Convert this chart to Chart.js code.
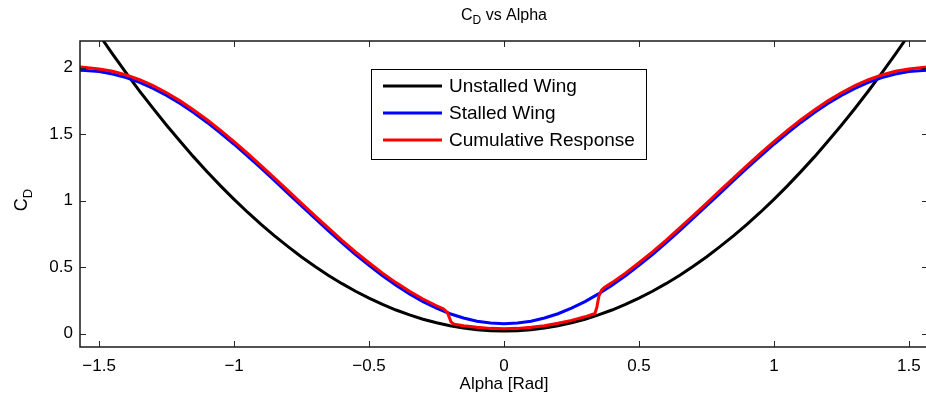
<!DOCTYPE html>
<html>
<head>
<meta charset="utf-8">
<script src="https://cdn.jsdelivr.net/npm/chart.js@4.4.1/dist/chart.umd.min.js"></script>
<style>
    html, body { margin: 0; padding: 0; background: #fff; overflow: hidden; }
    #wrap { width: 940px; height: 407px; }
</style>
</head>
<body>
<div id="wrap"><canvas id="cdChart" width="940" height="407"></canvas></div>
<script>
// angle of attack grid (rad) shared by the unstalled and stalled curves
const alphaGrid = [-1.5708, -1.55, -1.5, -1.45, -1.4, -1.35, -1.3, -1.25, -1.2, -1.15, -1.1, -1.05, -1.0,
    -0.95, -0.9, -0.85, -0.8, -0.75, -0.7, -0.65, -0.6, -0.55, -0.5, -0.45, -0.4, -0.35, -0.3, -0.25, -0.2,
    -0.15, -0.1, -0.05, 0, 0.05, 0.1, 0.15, 0.2, 0.25, 0.3, 0.35, 0.4, 0.45, 0.5, 0.55, 0.6, 0.65, 0.7,
    0.75, 0.8, 0.85, 0.9, 0.95, 1.0, 1.05, 1.1, 1.15, 1.2, 1.25, 1.3, 1.35, 1.4, 1.45, 1.5, 1.55, 1.5708];

const unstalledCd = [2.463, 2.398, 2.248, 2.101, 1.960, 1.824, 1.693, 1.567, 1.446, 1.329, 1.218, 1.111, 1.010,
    0.913, 0.822, 0.735, 0.654, 0.577, 0.505, 0.438, 0.376, 0.319, 0.268, 0.220, 0.178, 0.141, 0.109, 0.082, 0.060,
    0.042, 0.030, 0.022, 0.020, 0.022, 0.030, 0.042, 0.060, 0.082, 0.109, 0.141, 0.178, 0.220, 0.268, 0.319, 0.376,
    0.438, 0.505, 0.577, 0.654, 0.735, 0.822, 0.913, 1.010, 1.111, 1.218, 1.329, 1.446, 1.567, 1.693, 1.824, 1.960,
    2.101, 2.248, 2.398, 2.463];

const stalledCd = [1.980, 1.979, 1.970, 1.952, 1.925, 1.889, 1.844, 1.791, 1.730, 1.662, 1.588, 1.508, 1.424,
    1.335, 1.244, 1.150, 1.055, 0.960, 0.866, 0.773, 0.682, 0.595, 0.513, 0.435, 0.364, 0.299, 0.241, 0.192, 0.150,
    0.118, 0.094, 0.080, 0.075, 0.080, 0.094, 0.118, 0.150, 0.192, 0.241, 0.299, 0.364, 0.435, 0.513, 0.595, 0.682,
    0.773, 0.866, 0.960, 1.055, 1.150, 1.244, 1.335, 1.424, 1.508, 1.588, 1.662, 1.730, 1.791, 1.844, 1.889, 1.925,
    1.952, 1.970, 1.979, 1.980];

// cumulative response has its own grid because of the stall jumps
const cumAlpha = [-1.5708, -1.55, -1.5, -1.45, -1.4, -1.35, -1.3, -1.25, -1.2, -1.15, -1.1, -1.05, -1.0,
    -0.95, -0.9, -0.85, -0.8, -0.75, -0.7, -0.65, -0.6, -0.55, -0.5, -0.45, -0.4, -0.35, -0.3, -0.25, -0.225,
    -0.21, -0.196, -0.185, -0.15, -0.1, -0.05, 0, 0.05, 0.1, 0.15, 0.2, 0.25, 0.3, 0.337, 0.344, 0.352, 0.362,
    0.372, 0.4, 0.45, 0.5, 0.55, 0.6, 0.65, 0.7, 0.75, 0.8, 0.85, 0.9, 0.95, 1.0, 1.05, 1.1, 1.15, 1.2, 1.25,
    1.3, 1.35, 1.4, 1.45, 1.5, 1.55, 1.5708];

const cumCd = [2.005, 2.000, 1.990, 1.972, 1.945, 1.909, 1.864, 1.811, 1.750, 1.682, 1.608, 1.528, 1.444,
    1.355, 1.264, 1.170, 1.075, 0.980, 0.886, 0.793, 0.702, 0.615, 0.533, 0.455, 0.384, 0.319, 0.261, 0.210, 0.188,
    0.160, 0.088, 0.072, 0.060, 0.048, 0.040, 0.038, 0.040, 0.048, 0.060, 0.078, 0.100, 0.127, 0.152,
    0.200, 0.285, 0.330, 0.348, 0.384, 0.455, 0.533, 0.615, 0.702, 0.793, 0.886, 0.980, 1.075, 1.170, 1.264,
    1.355, 1.444, 1.528, 1.608, 1.682, 1.750, 1.811, 1.864, 1.909, 1.945, 1.972, 1.990, 2.000, 2.005];

const seriesNames = ['Unstalled Wing', 'Stalled Wing', 'Cumulative Response'];
const xTicks = [-1.5, -1, -0.5, 0, 0.5, 1, 1.5];
const yTicks = [0, 0.5, 1, 1.5, 2];

const FONT = '"Liberation Sans", Arial, Helvetica, sans-serif';

function toPoints(xs, ys) {
    return xs.map((x, i) => ({ x: x, y: ys[i] }));
}

function fmt(v) {
    return v < 0 ? '\u2212' + Math.abs(v) : String(v);
}

// text with a subscript, e.g. C_D
function drawSub(ctx, main, sub, rest, x, y, size, align) {
    ctx.font = size + 'px ' + FONT;
    const wMain = ctx.measureText(main).width;
    const subSize = Math.round(size * 0.72);
    ctx.font = subSize + 'px ' + FONT;
    const wSub = ctx.measureText(sub).width;
    ctx.font = size + 'px ' + FONT;
    const wRest = ctx.measureText(rest).width;
    const total = wMain + wSub + wRest;
    let x0 = align === 'center' ? x - total / 2 : x;
    ctx.textAlign = 'left';
    ctx.textBaseline = 'alphabetic';
    ctx.fillText(main, x0, y);
    ctx.font = subSize + 'px ' + FONT;
    ctx.fillText(sub, x0 + wMain, y + size * 0.28);
    ctx.font = size + 'px ' + FONT;
    ctx.fillText(rest, x0 + wMain + wSub, y);
}

// box, inward ticks, titles and the legend (matlab look)
const matlabFrame = {
    id: 'matlabFrame',
    afterDatasetsDraw(chart) {
        const ctx = chart.ctx;
        const a = chart.chartArea;
        const xs = chart.scales.x;
        const ys = chart.scales.y;
        ctx.save();

        ctx.strokeStyle = '#262626';
        ctx.lineWidth = 1;
        xTicks.forEach(v => {
            const px = Math.round(xs.getPixelForValue(v)) + 0.5;
            ctx.beginPath();
            ctx.moveTo(px, a.bottom); ctx.lineTo(px, a.bottom - 6);
            ctx.moveTo(px, a.top); ctx.lineTo(px, a.top + 6);
            ctx.stroke();
        });
        yTicks.forEach(v => {
            const py = Math.round(ys.getPixelForValue(v)) + 0.5;
            ctx.beginPath();
            ctx.moveTo(a.left, py); ctx.lineTo(a.left + 6, py);
            ctx.moveTo(a.right, py); ctx.lineTo(a.right - 6, py);
            ctx.stroke();
        });
        ctx.lineWidth = 1.5;
        ctx.strokeStyle = '#1a1a1a';
        ctx.strokeRect(a.left, a.top, a.right - a.left, a.bottom - a.top);

        // legend
        const lx = 371, ly = 69, lw = 275, lh = 90;
        ctx.fillStyle = '#fff';
        ctx.fillRect(lx, ly, lw, lh);
        ctx.strokeStyle = '#000';
        ctx.lineWidth = 1;
        ctx.strokeRect(lx + 0.5, ly + 0.5, lw, lh);
        const rows = [86, 113, 140];
        chart.data.datasets.forEach((ds, i) => {
            ctx.strokeStyle = ds.borderColor;
            ctx.lineWidth = 3;
            ctx.beginPath();
            ctx.moveTo(383, rows[i]); ctx.lineTo(442, rows[i]);
            ctx.stroke();
            ctx.fillStyle = '#000';
            ctx.font = '19px ' + FONT;
            ctx.textAlign = 'left';
            ctx.textBaseline = 'middle';
            ctx.fillText(ds.label, 449, rows[i] + 1);
        });

        // titles
        ctx.fillStyle = '#000';
        drawSub(ctx, 'C', 'D', ' vs Alpha', 504, 20, 16, 'center');
        ctx.font = '17px ' + FONT;
        ctx.textAlign = 'center';
        ctx.textBaseline = 'alphabetic';
        ctx.fillText('Alpha [Rad]', 504, 389);
        ctx.translate(27, 200);
        ctx.rotate(-Math.PI / 2);
        drawSub(ctx, 'C', 'D', '', 0, 0, 18, 'center');
        ctx.restore();
    }
};

const ctx = document.getElementById('cdChart').getContext('2d');
new Chart(ctx, {
    type: 'scatter',
    data: {
        datasets: [
            { label: seriesNames[0], data: toPoints(alphaGrid, unstalledCd), borderColor: '#000000', order: 2 },
            { label: seriesNames[1], data: toPoints(alphaGrid, stalledCd), borderColor: '#0000ff', order: 1 },
            { label: seriesNames[2], data: toPoints(cumAlpha, cumCd), borderColor: '#ff0000', order: 0 }
        ].map(ds => Object.assign(ds, {
            showLine: true, pointRadius: 0, borderWidth: 3, tension: 0, fill: false
        }))
    },
    plugins: [matlabFrame],
    options: {
        responsive: false,
        animation: false,
        events: [],
        layout: { padding: { top: 41, right: 12, left: 0, bottom: 0 } },
        plugins: { legend: { display: false }, tooltip: { enabled: false }, title: { display: false } },
        scales: {
            x: {
                type: 'linear', min: -1.5708, max: 1.5708,
                grid: { display: false, drawTicks: false, tickLength: 0 }, border: { display: false },
                afterBuildTicks: s => { s.ticks = xTicks.map(v => ({ value: v })); },
                afterFit: s => { s.height = 60; },
                ticks: { padding: 9, color: '#000', font: { family: FONT, size: 17 }, maxRotation: 0, autoSkip: false, callback: v => fmt(v) }
            },
            y: {
                type: 'linear', min: -0.1, max: 2.2,
                grid: { display: false, drawTicks: false, tickLength: 0 }, border: { display: false },
                afterBuildTicks: s => { s.ticks = yTicks.map(v => ({ value: v })); },
                afterFit: s => { s.width = 80; },
                ticks: { padding: 7, color: '#000', font: { family: FONT, size: 17 }, autoSkip: false, callback: v => fmt(v) }
            }
        }
    }
});
</script>
</body>
</html>
